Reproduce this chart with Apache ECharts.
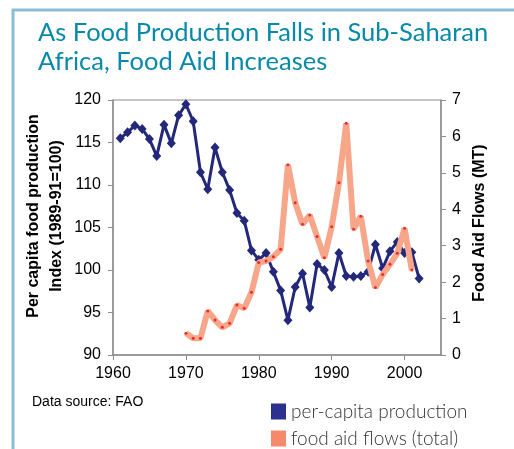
<!DOCTYPE html>
<html>
<head>
<meta charset="utf-8">
<script src="https://cdn.jsdelivr.net/npm/echarts@6/dist/echarts.min.js"></script>
<style>
  html, body { margin: 0; padding: 0; background: #fff; }
  #chart { width: 514px; height: 449px; }
</style>
</head>
<body>
<div id="chart"></div>
<script>
// per-capita food production index, 1961-2002
const prodYears = [
  1961, 1962, 1963, 1964, 1965, 1966, 1967, 1968, 1969, 1970,
  1971, 1972, 1973, 1974, 1975, 1976, 1977, 1978, 1979, 1980,
  1981, 1982, 1983, 1984, 1985, 1986, 1987, 1988, 1989, 1990,
  1991, 1992, 1993, 1994, 1995, 1996, 1997, 1998, 1999, 2000,
  2001, 2002
];
const production = [
  115.5, 116.2, 117.0, 116.6, 115.4, 113.4, 117.1, 114.9, 118.2, 119.5,
  117.5, 111.5, 109.5, 114.4, 111.5, 109.4, 106.7, 105.8, 102.3, 101.2,
  102.0, 99.8, 97.6, 94.1, 98.0, 99.6, 95.6, 100.7, 100.0, 98.0,
  102.0, 99.3, 99.2, 99.3, 99.8, 103.0, 100.2, 102.2, 103.3, 102.0,
  102.1, 99.0
];

// food aid flows (MT), 1970-2001
const aidYears = [
  1970, 1971, 1972, 1973, 1974, 1975, 1976, 1977, 1978, 1979,
  1980, 1981, 1982, 1983, 1984, 1985, 1986, 1987, 1988, 1989,
  1990, 1991, 1992, 1993, 1994, 1995, 1996, 1997, 1998, 1999,
  2000, 2001
];
const foodAid = [
  0.60, 0.46, 0.46, 1.21, 0.96, 0.76, 0.87, 1.37, 1.28, 1.72,
  2.54, 2.58, 2.70, 2.90, 5.22, 4.18, 3.59, 3.84, 3.25, 2.67,
  3.52, 4.73, 6.36, 3.45, 3.81, 2.58, 1.85, 2.21, 2.49, 2.79,
  3.48, 2.33
];

const seriesNames = ['per-capita production', 'food aid flows (total)'];
const legendColors = ['#2b318f', '#f5896c'];

const axisGrey = '#8c8c8c';
const labelFont = '"Liberation Sans", Arial, sans-serif';

// one legend per row, so both rows stack under the plot
function legendRow(i, top) {
  return {
    left: 271,
    top: top,
    padding: 0,
    icon: 'rect',
    itemWidth: 15,
    itemHeight: 16,
    textStyle: {
      fontFamily: 'Lato, sans-serif',
      fontWeight: 300,
      fontSize: 19,
      color: '#333',
      padding: [0, 0, 0, 0]
    },
    data: [{name: seriesNames[i], itemStyle: {color: legendColors[i]}}]
  };
}

const chart = echarts.init(document.getElementById('chart'), null, {renderer: 'canvas'});

chart.setOption({
  backgroundColor: '#fff',
  animation: false,
  title: {
    text: 'As Food Production Falls in Sub-Saharan\nAfrica, Food Aid Increases',
    left: 33,
    top: 13,
    textStyle: {
      fontFamily: 'Lato, sans-serif',
      fontWeight: 'normal',
      fontSize: 25.5,
      lineHeight: 29,
      color: '#0789a9'
    }
  },
  legend: [legendRow(0, 402), legendRow(1, 429)],
  grid: {
    left: 113,
    right: 73,
    top: 100,
    bottom: 94,
    show: true,
    borderColor: axisGrey,
    borderWidth: 1
  },
  xAxis: {
    type: 'value',
    min: 1960,
    max: 2005,
    interval: 10,
    axisLine: {lineStyle: {color: axisGrey, width: 1.5}},
    axisTick: {show: true, length: 5, lineStyle: {color: axisGrey}},
    splitLine: {show: false},
    axisLabel: {
      margin: 11,
      fontFamily: labelFont,
      fontSize: 16,
      color: '#000',
      showMaxLabel: false,
      formatter: v => (v % 10 === 0 ? String(v) : '')
    }
  },
  yAxis: [
    {
      type: 'value',
      position: 'left',
      min: 90,
      max: 120,
      interval: 5,
      axisLine: {show: true, lineStyle: {color: axisGrey, width: 1.5}},
      axisTick: {show: true, length: 5, lineStyle: {color: axisGrey}},
      splitLine: {show: false},
      axisLabel: {margin: 12, fontFamily: labelFont, fontSize: 16, color: '#000'}
    },
    {
      type: 'value',
      position: 'right',
      min: 0,
      max: 7,
      interval: 1,
      axisLine: {show: true, lineStyle: {color: axisGrey, width: 1.5}},
      axisTick: {show: true, length: 5, lineStyle: {color: axisGrey}},
      splitLine: {show: false},
      axisLabel: {margin: 11, fontFamily: labelFont, fontSize: 16, color: '#000'}
    }
  ],
  graphic: [
    {
      type: 'rect',
      silent: true,
      shape: {x: 13, y: 10, width: 560, height: 500},
      style: {fill: 'none', stroke: '#89bfd6', lineWidth: 3}
    },
    {
      type: 'text',
      rotation: Math.PI / 2,
      x: 45,
      y: 216,
      style: {
        text: 'Per capita food production\nIndex (1989-91=100)',
        fontFamily: labelFont,
        fontWeight: 'bold',
        fontSize: 16,
        lineHeight: 23,
        fill: '#000',
        align: 'center',
        verticalAlign: 'middle'
      }
    },
    {
      type: 'text',
      rotation: Math.PI / 2,
      x: 480,
      y: 223,
      style: {
        text: 'Food Aid Flows (MT)',
        fontFamily: labelFont,
        fontWeight: 'bold',
        fontSize: 16,
        fill: '#000',
        align: 'center',
        verticalAlign: 'middle'
      }
    },
    {
      type: 'text',
      x: 32,
      y: 402,
      style: {
        text: 'Data source: FAO',
        fontFamily: labelFont,
        fontSize: 14,
        fill: '#000',
        align: 'left',
        verticalAlign: 'middle'
      }
    }
  ],
  series: [
    {
      name: seriesNames[0],
      type: 'line',
      yAxisIndex: 0,
      z: 2,
      data: prodYears.map((y, i) => [y, production[i]]),
      symbol: 'diamond',
      symbolSize: [9, 10],
      lineStyle: {color: '#23287a', width: 3},
      itemStyle: {color: '#23287a'}
    },
    {
      name: seriesNames[1],
      type: 'line',
      yAxisIndex: 1,
      z: 3,
      data: aidYears.map((y, i) => [y, foodAid[i]]),
      symbol: 'circle',
      symbolSize: 3,
      lineStyle: {color: '#f8a68a', width: 6},
      itemStyle: {color: '#ec2a2a', borderWidth: 0}
    }
  ]
});
</script>
</body>
</html>
